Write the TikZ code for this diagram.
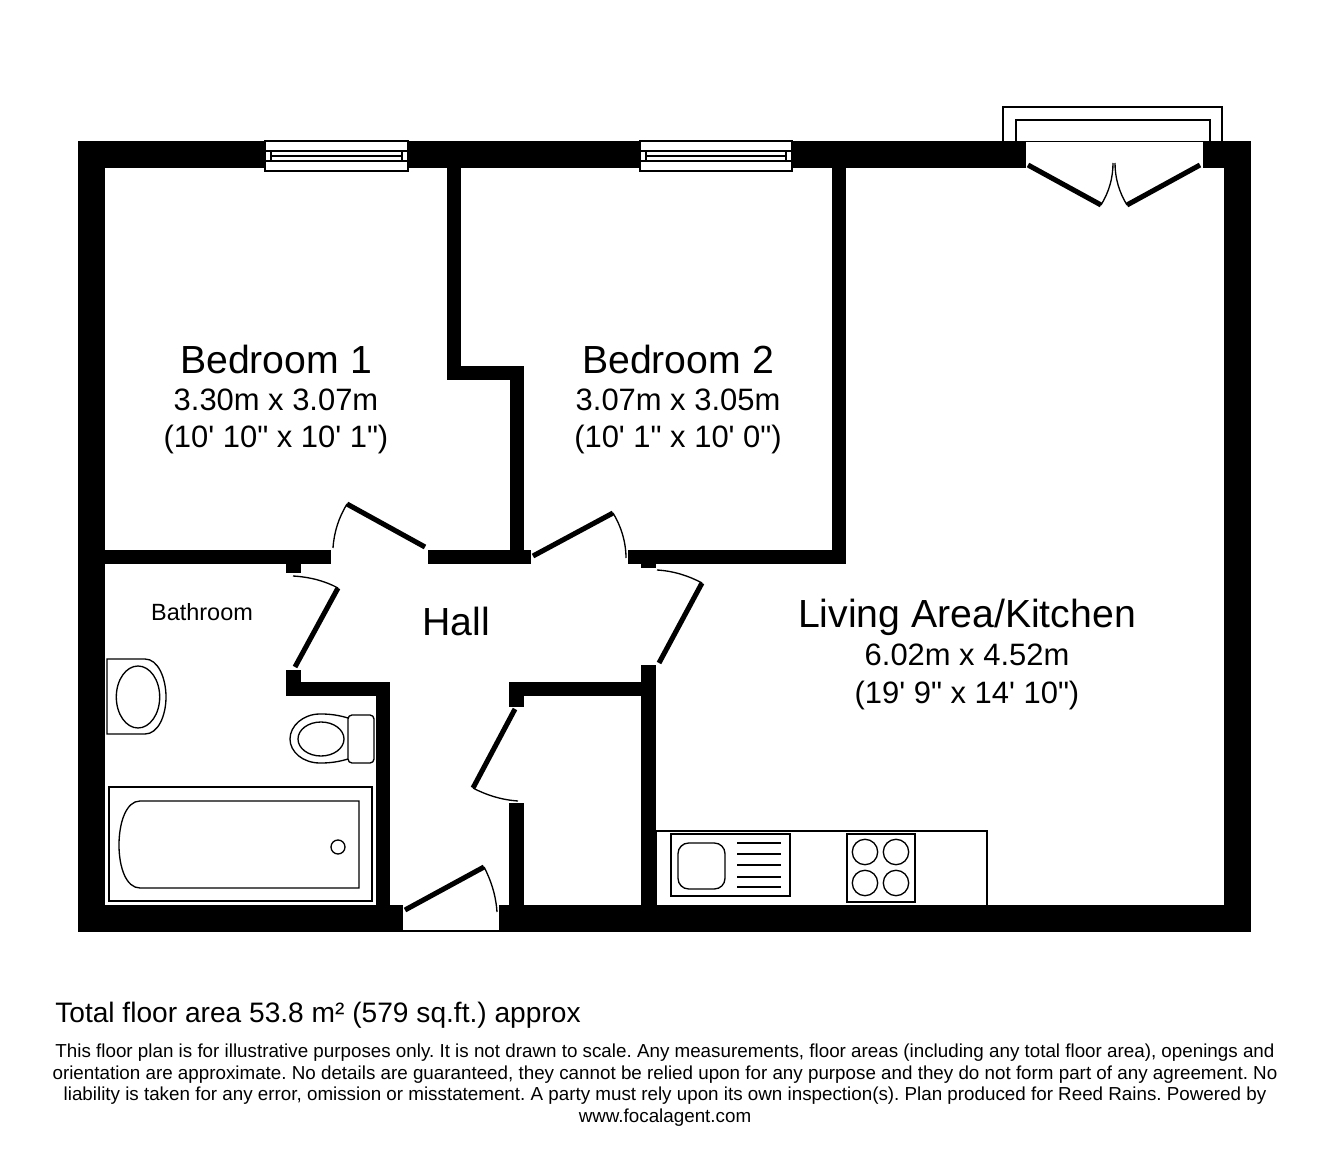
\documentclass[tikz,border=0pt]{standalone}
\usepackage{fontspec}
\usepackage{tikz}
\newfontfamily\planfont{Liberation Sans}
\frenchspacing
\tikzset{
  wall/.style={fill=black},
  leaf/.style={draw=black,line width=3.8pt},
  swing/.style={draw=black,line width=1pt},
  fitting/.style={draw=black,line width=1pt},
  roomname/.style={font=\planfont\fontsize{29.4}{32}\selectfont},
  roomsize/.style={font=\planfont\fontsize{23.2}{26}\selectfont},
  bathlabel/.style={font=\planfont\fontsize{17.6}{20}\selectfont},
  arealabel/.style={font=\planfont\fontsize{21.1}{24}\selectfont},
  smallprint/.style={font=\planfont\fontsize{14.1}{16.3}\selectfont,align=center}
}

\begin{document}
\begin{tikzpicture}[x=0.75pt,y=-0.75pt]
\useasboundingbox (0,0) rectangle (1328,1151);

% Outer walls
\fill[wall] (78,141) rectangle (265,168.5);
\fill[wall] (408,141) rectangle (640,168.5);
\fill[wall] (792,141) rectangle (1026,168.5);
\fill[wall] (1203,141) rectangle (1251,168.5);
\fill[wall] (78,141) rectangle (105,932);
\fill[wall] (1224,141) rectangle (1251,932);
\fill[wall] (78,905) rectangle (403,932);
\fill[wall] (499,905) rectangle (1251,932);

% Bedroom walls
\fill[wall] (447,168) rectangle (461,380);
\fill[wall] (447,366) rectangle (524,380);
\fill[wall] (510,366) rectangle (524,564);
\fill[wall] (832,168) rectangle (846,564);
\fill[wall] (105,550) rectangle (331,564);
\fill[wall] (286,564) rectangle (301,573);
\fill[wall] (428,550) rectangle (531,564);
\fill[wall] (628,550) rectangle (846,564);
\fill[wall] (641,564) rectangle (656,568);

% Bathroom and cupboard walls
\fill[wall] (286,670) rectangle (301,696);
\fill[wall] (286,682) rectangle (390,696);
\fill[wall] (376,682) rectangle (390,905);
\fill[wall] (509,682) rectangle (656,696);
\fill[wall] (509,682) rectangle (524,707);
\fill[wall] (509,803) rectangle (524,905);
\fill[wall] (641,665) rectangle (656,905);

% Window of Bedroom 1
\draw[fitting] (265,141) rectangle (408,171);
\draw[fitting] (265,151) -- (408,151) (265,161) -- (408,161);
\draw[fitting] (271,151) rectangle (402,161);
\draw[fitting] (271,156) -- (402,156);

% Window of Bedroom 2
\draw[fitting] (640,141) rectangle (792,171);
\draw[fitting] (640,151) -- (792,151) (640,161) -- (792,161);
\draw[fitting] (646,151) rectangle (786,161);
\draw[fitting] (646,156) -- (786,156);

% Balcony and french doors
\draw[fitting] (1003,141) -- (1003,107) -- (1222,107) -- (1222,141);
\draw[fitting] (1016,141) -- (1016,120) -- (1210,120) -- (1210,141);
\draw[fitting] (1026,141.5) -- (1203,141.5);
\draw[leaf] (1028,165) -- (1101,205);
\draw[leaf] (1200,165) -- (1127,205);
\draw[swing] (1101,205) .. controls (1109,192) and (1113,178) .. (1113,163);
\draw[swing] (1127,205) .. controls (1119,192) and (1115,178) .. (1115,163);

% Doors off the hall
\draw[leaf] (347,504) -- (425,547);
\draw[swing] (347,504) .. controls (339,517) and (334,532) .. (333,548);
\draw[leaf] (533,556) -- (613,513);
\draw[swing] (613,513) .. controls (621,526) and (626,542) .. (626,558);
\draw[leaf] (338,588) -- (295,667);
\draw[swing] (338,588) .. controls (325,581) and (310,577) .. (293,576);
\draw[leaf] (702,583) -- (659,663);
\draw[swing] (702,583) .. controls (689,576) and (674,571) .. (657,570);
\draw[leaf] (515,709) -- (473,788);
\draw[swing] (473,788) .. controls (486,795) and (502,800) .. (518,801);

% Entrance door
\draw[leaf] (405,910) -- (484,867);
\draw[swing] (484,867) .. controls (491,880) and (496,896) .. (497,912);
\draw[fitting] (403,931) -- (499,931);

% Basin
\draw[fitting] (107,659) -- (145,659) .. controls (158,659) and (166,678) .. (166,697)
  .. controls (166,716) and (158,734) .. (145,734) -- (107,734) -- cycle;
\draw[fitting] (138,697) ellipse (21.7 and 31);

% Toilet
\draw[fitting] (348,718) .. controls (335,714) and (325,714) .. (320,714)
  .. controls (303,714) and (290,726) .. (290,739)
  .. controls (290,752) and (303,763) .. (320,763)
  .. controls (325,763) and (335,763) .. (348,759);
\draw[fitting] (321,739) ellipse (23 and 17);
\draw[fitting,rounded corners=3pt] (348,715) rectangle (374,763);

% Bath
\draw[fitting] (109,787) rectangle (372,901);
\draw[fitting] (359,801) -- (140,801) .. controls (126,801) and (119,823) .. (119,845)
  .. controls (119,867) and (126,888) .. (140,888) -- (359,888) -- cycle;
\draw[fitting] (338,847) circle (7);

% Kitchen units
\draw[fitting] (656,905) -- (656,831) -- (987,831) -- (987,905);
\draw[fitting] (671,834) rectangle (790,896);
\draw[fitting,rounded corners=8pt] (678,843) rectangle (725,889);
\draw[fitting] (737,843) -- (781,843) (737,854) -- (781,854) (737,865) -- (781,865)
  (737,877) -- (781,877) (737,887) -- (781,887);
\draw[fitting] (847,834) rectangle (915,902);
\draw[fitting] (865,852) circle (12.7) (896,852) circle (12.7)
  (865,883) circle (12.7) (896,883) circle (12.7);

% Room labels
\node[roomname] (bedonename) at (276,359) {Bedroom 1};
\node[roomsize] (bedonemetric) at (276,400) {3.30m x 3.07m};
\node[roomsize] (bedoneimperial) at (276,439) {(10' 10" x 10' 1")};
\node[roomname] (bedtwoname) at (678,359) {Bedroom 2};
\node[roomsize] (bedtwometric) at (678,400) {3.07m x 3.05m};
\node[roomsize] (bedtwoimperial) at (678,439) {(10' 1" x 10' 0")};
\node[roomname] (hallname) at (456,621) {Hall};
\node[bathlabel] (bathname) at (202,612) {Bathroom};
\node[roomname] (livingname) at (967,617) {Living Area/Kitchen};
\node[roomsize] (livingmetric) at (967,655) {6.02m x 4.52m};
\node[roomsize] (livingimperial) at (967,695) {(19' 9" x 14' 10")};

% Text under the plan
\node[arealabel,anchor=west,inner sep=0pt] (totalarea) at (55,1015) {Total floor area 53.8 m² (579 sq.ft.) approx};
\node[smallprint,inner sep=0pt] (disclaimer) at (665,1085) {This floor plan is for illustrative purposes only. It is not drawn to scale. Any measurements, floor areas (including any total floor area), openings and\\
orientation are approximate. No details are guaranteed, they cannot be relied upon for any purpose and they do not form part of any agreement. No\\
liability is taken for any error, omission or misstatement. A party must rely upon its own inspection(s). Plan produced for Reed Rains. Powered by\\
www.focalagent.com};
\end{tikzpicture}
\end{document}
